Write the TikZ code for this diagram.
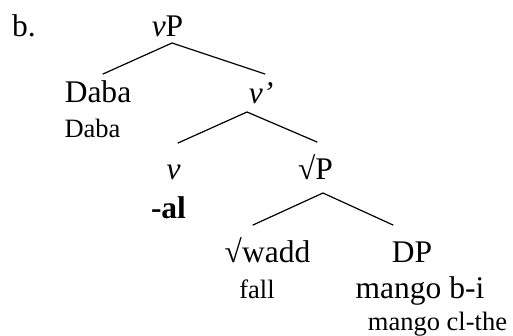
\documentclass[tikz,border=0pt]{standalone}
\usepackage{fontspec}
\setmainfont{Liberation Serif}
\begin{document}
\begin{tikzpicture}[x=1bp,y=1bp,
  big/.style={inner sep=0pt,anchor=base,font=\fontsize{31.5bp}{36bp}\selectfont},
  small/.style={inner sep=0pt,anchor=base,font=\fontsize{26.5bp}{30bp}\selectfont},
  branch/.style={line width=1.2bp,line cap=round}]
\useasboundingbox (0,0) rectangle (513,335);
% labels and words (baselines)
\node[big] (ex) at (24,299) {b.};
\node[big] (vP) at (167.5,299) {\textit{v}P};
\node[big] (Daba) at (98,233) {Daba};
\node[small] (Dabagl) at (92.5,198) {Daba};
\node[big] (vbar) at (261,232) {\textit{v’}};
\node[big] (v) at (173.5,156) {\textit{v}};
\node[big] (al) at (168.5,117) {\textbf{-al}};
\node[big] (rootP) at (315.5,156) {√P};
\node[big] (wadd) at (267.5,73) {√wadd};
\node[big] (DP) at (412,73) {DP};
\node[small] (fall) at (257,37) {fall};
\node[big] (mango) at (420,37) {mango b-i};
\node[small] (mangogl) at (437.5,5) {mango cl-the};
% branch points
\coordinate (vP-top) at (172,292);
\coordinate (Daba-top) at (103,261);
\coordinate (vbar-in) at (265,261);
\coordinate (vbar-top) at (247,223);
\coordinate (v-top) at (178,192);
\coordinate (rootP-in) at (317,193);
\coordinate (rootP-top) at (323,142);
\coordinate (wadd-top) at (253,110);
\coordinate (DP-top) at (393,110);
% branches
\draw[branch] (Daba-top) -- (vP-top) -- (vbar-in);
\draw[branch] (v-top) -- (vbar-top) -- (rootP-in);
\draw[branch] (wadd-top) -- (rootP-top) -- (DP-top);
\end{tikzpicture}
\end{document}
